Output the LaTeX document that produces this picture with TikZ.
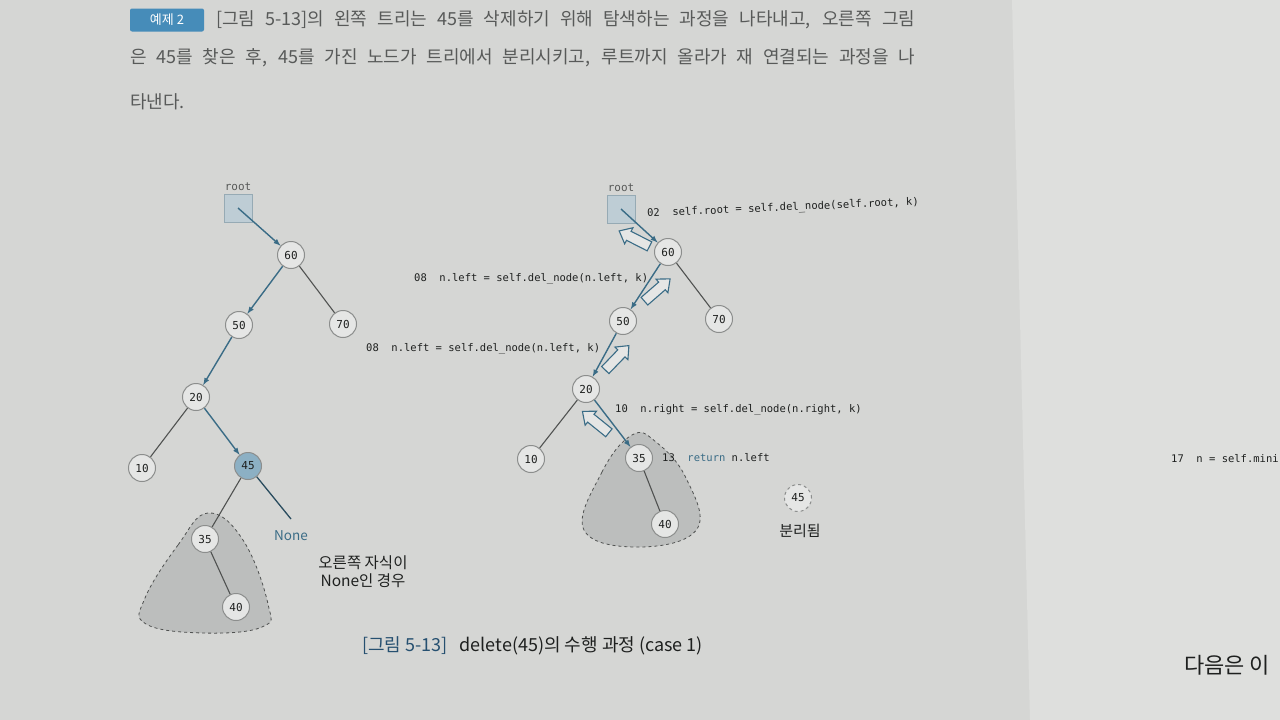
\documentclass[tikz,border=0pt]{standalone}
\usepackage{fontspec}
\setmainfont{Noto Sans CJK KR}
\setmonofont{DejaVu Sans Mono}
\usepackage{xcolor}
\usetikzlibrary{shapes.arrows,arrows,calc}

\definecolor{pagebg}{RGB}{213,214,212}
\definecolor{pageright}{RGB}{222,223,221}
\definecolor{ringgray}{RGB}{140,142,141}
\definecolor{nodefill}{RGB}{229,230,229}
\definecolor{hitblue}{RGB}{140,176,196}
\definecolor{boxfill}{RGB}{190,205,213}
\definecolor{boxline}{RGB}{150,170,180}
\definecolor{walkblue}{RGB}{58,108,134}
\definecolor{edgegray}{RGB}{80,82,81}
\definecolor{blobfill}{RGB}{188,190,189}
\definecolor{headgray}{RGB}{88,90,89}
\definecolor{badgeblue}{RGB}{70,140,185}
\definecolor{capblue}{RGB}{38,80,112}
\definecolor{textdark}{RGB}{30,32,31}

\begin{document}
\begin{tikzpicture}[
	%	style def
	x=1pt, y=-1pt,
	tree node/.style={circle, draw=ringgray, fill=nodefill, line width=1pt, minimum size=27pt, inner sep=0pt, font=\ttfamily\fontsize{11}{11}\selectfont, text=textdark},
	found node/.style={tree node, fill=hitblue},
	gone node/.style={tree node, dashed},
	root box/.style={rectangle, draw=boxline, fill=boxfill, minimum size=28pt, inner sep=0pt, label={[font=\ttfamily\fontsize{11}{11}\selectfont, text=headgray]above:root}},
	walk line/.style={draw=walkblue, line width=1.4pt, -latex},
	plain line/.style={draw=edgegray, line width=1.1pt},
	none line/.style={draw=walkblue!70!black, line width=1.3pt},
	back arrow/.style={single arrow, draw=walkblue, fill=nodefill, line width=1.1pt, inner sep=4.5pt, minimum height=34pt, single arrow head extend=4pt, single arrow tip angle=80},
	subtree/.style={draw=edgegray, dashed, fill=blobfill, line width=0.8pt},
	code/.style={anchor=west, inner sep=0pt, text=textdark, font=\ttfamily\fontsize{10.5}{10.5}\selectfont},
	note/.style={inner sep=0pt, text=textdark, font=\fontsize{15.5}{18}\selectfont, align=center},
	headline/.style={anchor=west, inner sep=0pt, text=headgray, font=\fontsize{18}{18}\selectfont}
	]
	\useasboundingbox (0,0) rectangle (1280,720);
	% page
	\fill[pagebg] (0,0) rectangle (1280,720);
	\fill[pageright] (1012,0) -- (1280,0) -- (1280,720) -- (1030,720) -- cycle;

	% heading
	\node[rounded corners=2pt, fill=badgeblue, text=white, minimum width=74pt, minimum height=23pt, inner sep=0pt, font=\fontsize{13}{13}\selectfont] (badge) at (167,20) {예제 2};
	\node[headline] (head1) at (216,20) {\makebox[699pt][s]{[그림 5-13]의 왼쪽 트리는 45를 삭제하기 위해 탐색하는 과정을 나타내고, 오른쪽 그림}};
	\node[headline] (head2) at (130,58) {\makebox[785pt][s]{은 45를 찾은 후, 45를 가진 노드가 트리에서 분리시키고, 루트까지 올라가 재 연결되는 과정을 나}};
	\node[headline] (head3) at (130,102) {타낸다.};

	% subtrees (dashed)
	\draw[subtree] plot[smooth cycle, tension=0.7] coordinates {(208,513) (178,545) (145,598) (146,624) (203,633) (262,627) (268,604) (243,540)};
	\draw[subtree] plot[smooth cycle, tension=0.7] coordinates {(632,435) (602,472) (584,530) (640,547) (697,529) (686,478) (656,442)};

	% left tree: search for 45
	\node[root box] (lroot) at (238,208) {};
	\node[tree node] (l60) at (291,255) {60};
	\node[tree node] (l50) at (239,325) {50};
	\node[tree node] (l70) at (343,324) {70};
	\node[tree node] (l20) at (196,397) {20};
	\node[tree node] (l10) at (142,468) {10};
	\node[found node] (l45) at (248,466) {45};
	\node[tree node] (l35) at (205,539) {35};
	\node[tree node] (l40) at (236,607) {40};
	\coordinate (lnone) at (291,519);
	\node[inner sep=0pt, text=walkblue, font=\fontsize{13.5}{13.5}\selectfont] (nonetxt) at (291,536) {None};
	\node[note] (case) at (363,572) {오른쪽 자식이\\None인 경우};

	\draw[walk line] (lroot.center) -- (l60);
	\draw[walk line] (l60) -- (l50);
	\draw[plain line] (l60) -- (l70);
	\draw[walk line] (l50) -- (l20);
	\draw[plain line] (l20) -- (l10);
	\draw[walk line] (l20) -- (l45);
	\draw[plain line] (l45) -- (l35);
	\draw[none line] (l45) -- (lnone);
	\draw[plain line] (l35) -- (l40);

	% right tree: reconnect on the way up
	\node[root box] (rroot) at (621,209) {};
	\node[tree node] (r60) at (668,252) {60};
	\node[tree node] (r50) at (623,321) {50};
	\node[tree node] (r70) at (719,319) {70};
	\node[tree node] (r20) at (586,389) {20};
	\node[tree node] (r10) at (531,459) {10};
	\node[tree node] (r35) at (639,458) {35};
	\node[tree node] (r40) at (665,524) {40};
	\node[gone node] (r45) at (798,498) {45};
	\node[note, font=\fontsize{15}{15}\selectfont] (cut) at (800,531) {분리됨};

	\draw[walk line] (rroot.center) -- (r60);
	\draw[walk line] (r60) -- (r50);
	\draw[plain line] (r60) -- (r70);
	\draw[walk line] (r50) -- (r20);
	\draw[plain line] (r20) -- (r10);
	\draw[walk line] (r20) -- (r35);
	\draw[plain line] (r35) -- (r40);

	% return arrows
	\node[back arrow, rotate=153] (up1) at (637,240) {};
	\node[back arrow, rotate=41] (up2) at (655,292) {};
	\node[back arrow, rotate=46] (up3) at (615,360) {};
	\node[back arrow, rotate=141] (up4) at (598,424) {};

	% code lines
	\node[code, rotate=2.5] (c02) at (647,214) {02\ \ self.root = self.del\_node(self.root, k)};
	\node[code] (c08a) at (414,279) {08\ \ n.left = self.del\_node(n.left, k)};
	\node[code] (c08b) at (366,349) {08\ \ n.left = self.del\_node(n.left, k)};
	\node[code] (c10) at (615,410) {10\ \ n.right = self.del\_node(n.right, k)};
	\node[code] (c13) at (662,458) {13\ \ \textcolor{walkblue}{return} n.left};

	% caption
	\node[anchor=west, inner sep=0pt, text=textdark, font=\fontsize{18}{18}\selectfont] (cap) at (362,646) {\textcolor{capblue}{[그림 5-13]}\hspace{12pt}delete(45)의 수행 과정 (case 1)};

	% next page
	\node[code] (p17) at (1171,459) {17\ \ n = self.mini};
	\node[anchor=west, inner sep=0pt, text=textdark, font=\fontsize{22}{22}\selectfont] (pnext) at (1184,665) {다음은 이};
\end{tikzpicture}
\end{document}
